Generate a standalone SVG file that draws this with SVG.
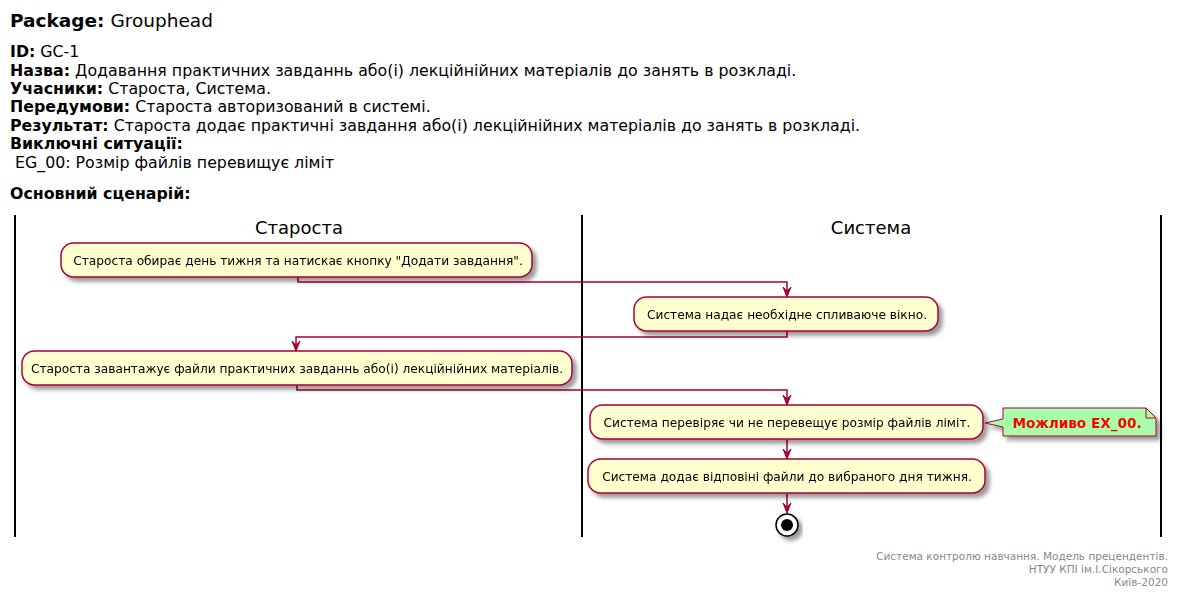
<svg xmlns="http://www.w3.org/2000/svg" width="1180" height="597" viewBox="0 0 1180 597">
<style>
text{font-family:"DejaVu Sans","Noto Sans",sans-serif;fill:#000}
.h{font-size:15.8px}
.b{font-weight:bold}
.lane{font-size:18px;text-anchor:middle}
.act rect{fill:#FEFECE;stroke:#A80036;stroke-width:1.5}
.act text{font-size:12.2px;text-anchor:middle}
.sw{stroke:#000;stroke-width:2}
.con{fill:none;stroke:#A80036;stroke-width:1.5}
.ft{font-size:10.5px;fill:#888;text-anchor:end}
</style>
<defs>
<filter id="sh" x="-10%" y="-20%" width="130%" height="160%">
<feGaussianBlur in="SourceAlpha" stdDeviation="2"/>
<feOffset dx="4" dy="4" result="o"/>
<feComponentTransfer><feFuncA type="linear" slope="0.4"/></feComponentTransfer>
<feMerge><feMergeNode/><feMergeNode in="SourceGraphic"/></feMerge>
</filter>
<marker id="ah" markerWidth="12" markerHeight="10" refX="11" refY="5" orient="auto" markerUnits="userSpaceOnUse" viewBox="0 0 12 10">
<path d="M1,1 L11,5 L1,9 L5,5 Z" fill="#A80036" stroke="#A80036" stroke-width="1"/>
</marker>
</defs>
<rect width="1180" height="597" fill="#fff"/>
<g id="header">
<text x="10" y="27" font-size="18.5"><tspan class="b">Package:</tspan> Grouphead</text>
<text x="10" y="57" class="h"><tspan class="b">ID:</tspan> GC-1</text>
<text x="10" y="76" class="h"><tspan class="b">Назва:</tspan> Додавання практичних завданнь або(і) лекційнійних матеріалів до занять в розкладі.</text>
<text x="10" y="94" class="h"><tspan class="b">Учасники:</tspan> Староста, Система.</text>
<text x="10" y="112" class="h"><tspan class="b">Передумови:</tspan> Староста авторизований в системі.</text>
<text x="10" y="131" class="h"><tspan class="b">Результат:</tspan> Староста додає практичні завдання або(і) лекційнійних матеріалів до занять в розкладі.</text>
<text x="10" y="149" class="h b">Виключні ситуації:</text>
<text x="10" y="168" class="h" xml:space="preserve"> EG_00: Розмір файлів перевищує ліміт</text>
<text x="10" y="199" class="h b">Основний сценарій:</text>
</g>
<g id="swimlanes">
<line class="sw" x1="15" y1="215" x2="15" y2="537"/>
<line class="sw" x1="582" y1="215" x2="582" y2="537"/>
<line class="sw" x1="1161" y1="215" x2="1161" y2="537"/>
<text class="lane" x="299" y="234">Староста</text>
<text class="lane" x="871" y="234">Система</text>
</g>
<g id="connectors">
<polyline class="con" points="298,277 298,282 787,282 787,297" marker-end="url(#ah)"/>
<polyline class="con" points="787,331 787,337 296,337 296,351" marker-end="url(#ah)"/>
<polyline class="con" points="297,385 297,390 787,390 787,405" marker-end="url(#ah)"/>
<line class="con" x1="787" y1="439" x2="787" y2="459" marker-end="url(#ah)"/>
<line class="con" x1="787" y1="493" x2="787" y2="513" marker-end="url(#ah)"/>
</g>
<g id="a1" class="act" filter="url(#sh)">
<rect x="61" y="243" width="471" height="34" rx="12.5"/>
<text x="298" y="265">Староста обирає день тижня та натискає кнопку "Додати завдання".</text>
</g>
<g id="a2" class="act" filter="url(#sh)">
<rect x="634" y="297" width="304" height="34" rx="12.5"/>
<text x="787" y="319">Система надає необхідне спливаюче вікно.</text>
</g>
<g id="a3" class="act" filter="url(#sh)">
<rect x="22" y="351" width="550" height="34" rx="12.5"/>
<text x="297" y="373">Староста завантажує файли практичних завданнь або(і) лекційнійних матеріалів.</text>
</g>
<g id="a4" class="act" filter="url(#sh)">
<rect x="590" y="405" width="393" height="34" rx="12.5"/>
<text x="787" y="427">Система перевіряє чи не перевещує розмір файлів ліміт.</text>
</g>
<g id="note" filter="url(#sh)">
<path d="M1003,408 L1003,419 L985,423 L1003,427 L1003,436 L1156,436 L1156,418 L1146,408 Z" fill="#A9FFA9" stroke="#A80036" stroke-width="1"/>
<path d="M1146,408 L1146,418 L1156,418" fill="none" stroke="#A80036" stroke-width="1"/>
<text x="1077" y="428" font-size="13.6" font-weight="bold" text-anchor="middle" style="fill:#FF0000">Можливо EX_00.</text>
</g>
<g id="a5" class="act" filter="url(#sh)">
<rect x="588" y="459" width="397" height="34" rx="12.5"/>
<text x="787" y="481">Система додає відповіні файли до вибраного дня тижня.</text>
</g>
<g id="end" filter="url(#sh)">
<circle cx="787" cy="525" r="11" fill="#fff" stroke="#000" stroke-width="1.5"/>
<circle cx="787" cy="525" r="6" fill="#000"/>
</g>
<g id="footer">
<text class="ft" x="1168" y="560">Система контролю навчання. Модель прецендентів.</text>
<text class="ft" x="1168" y="573">НТУУ КПІ ім.І.Сікорського</text>
<text class="ft" x="1168" y="586">Київ-2020</text>
</g>
</svg>
